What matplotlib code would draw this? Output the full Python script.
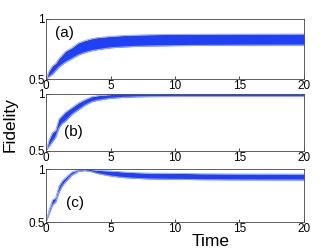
import numpy as np
import matplotlib.pyplot as plt

plt.rcParams['font.family'] = ['Liberation Sans', 'DejaVu Sans']

# time samples
t = [0, 0.25, 0.5, 0.75, 1, 1.25, 1.5, 2, 2.5, 3, 3.5, 4, 5, 6, 7, 8, 10, 12, 15, 20]

# upper / lower envelope of the bundle of fidelity curves, per panel
a_hi = [0.5, 0.57, 0.61, 0.63, 0.67, 0.70, 0.73, 0.76, 0.80, 0.82, 0.835, 0.845, 0.855, 0.862, 0.866, 0.869, 0.872, 0.873, 0.874, 0.875]
a_lo = [0.5, 0.52, 0.54, 0.57, 0.60, 0.62, 0.64, 0.67, 0.70, 0.72, 0.735, 0.745, 0.76, 0.767, 0.772, 0.775, 0.778, 0.78, 0.782, 0.783]
b_hi = [0.5, 0.60, 0.66, 0.68, 0.78, 0.81, 0.84, 0.88, 0.92, 0.95, 0.975, 0.985, 0.995, 0.998, 1.0, 1.0, 1.0, 1.0, 1.0, 1.0]
b_lo = [0.5, 0.54, 0.58, 0.62, 0.70, 0.74, 0.76, 0.82, 0.86, 0.90, 0.93, 0.945, 0.962, 0.97, 0.975, 0.977, 0.978, 0.978, 0.978, 0.978]
c_hi = [0.5, 0.62, 0.71, 0.73, 0.84, 0.89, 0.92, 0.975, 0.995, 1.0, 0.998, 0.99, 0.984, 0.975, 0.968, 0.964, 0.962, 0.958, 0.956, 0.955]
c_lo = [0.5, 0.58, 0.66, 0.69, 0.78, 0.84, 0.88, 0.945, 0.98, 0.988, 0.978, 0.96, 0.937, 0.922, 0.914, 0.909, 0.905, 0.902, 0.900, 0.899]

panels = [("(a)", a_hi, a_lo, (1.4, 0.885)),
          ("(b)", b_hi, b_lo, (2.1, 0.665)),
          ("(c)", c_hi, c_lo, (2.25, 0.68))]

blue = '#2040f4'
light = '#8fa0ff'

fig = plt.figure(figsize=(3.32, 2.49), dpi=100)
boxes = [[0.1386, 0.6827, 0.777, 0.241],
         [0.1386, 0.3948, 0.777, 0.2277],
         [0.1386, 0.1084, 0.777, 0.2116]]

for box, (lab, hi, lo, pos) in zip(boxes, panels):
    ax = fig.add_axes(box)
    ax.fill_between(t, lo, hi, color=blue, lw=0)
    ax.plot(t, hi, color=light, lw=0.6)
    ax.plot(t, lo, color=light, lw=0.8)
    ax.set_xlim(0, 20)
    ax.set_ylim(0.5, 1)
    ax.set_xticks([0, 5, 10, 15, 20])
    ax.set_yticks([0.5, 1])
    ax.set_yticklabels(['0.5', '1'])
    ax.tick_params(direction='in', labelsize=8.5, length=2, width=0.5, pad=1)
    for s in ax.spines.values():
        s.set_linewidth(0.6)
        s.set_color('#444444')
    ax.text(pos[0], pos[1], lab, fontsize=11, ha='center', va='center')

fig.text(0.03, 0.5, 'Fidelity', rotation=90, fontsize=12.5, ha='center', va='center')
fig.text(0.635, 0.03, 'Time', fontsize=12.5, ha='center', va='center')

plt.savefig('out.png')
